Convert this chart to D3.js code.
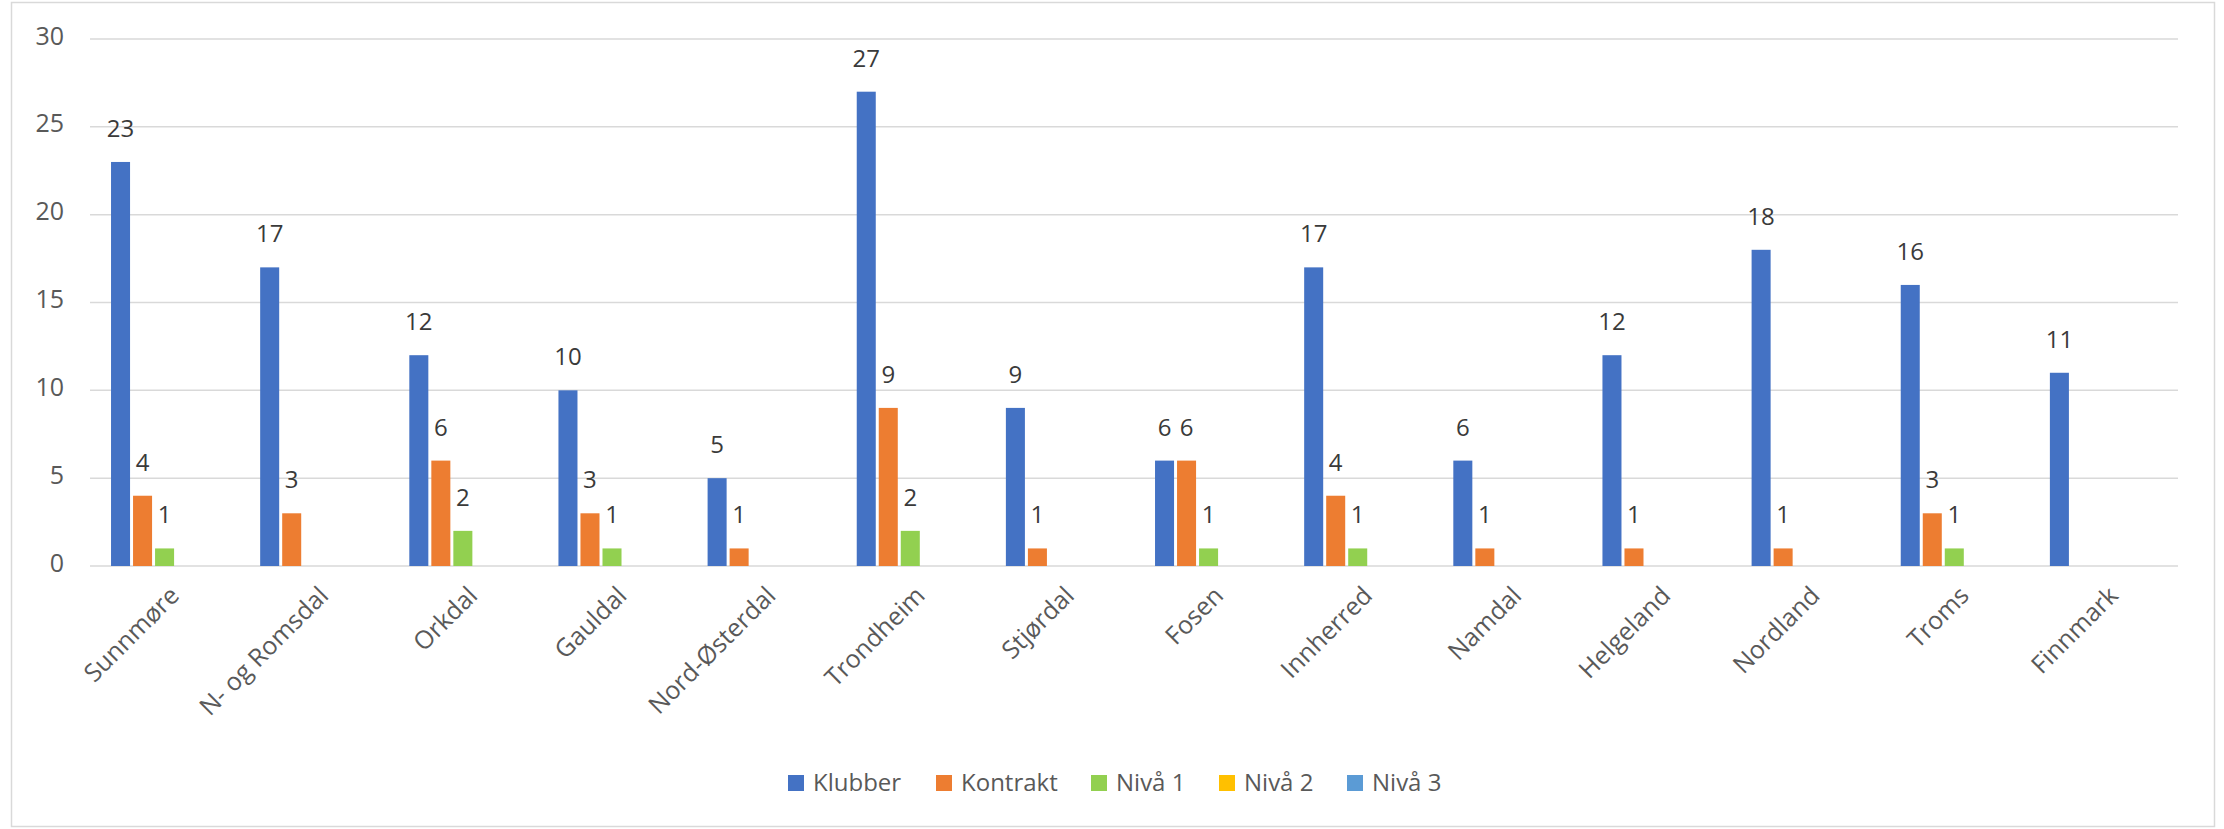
<!DOCTYPE html>
<html>
<head>
<meta charset="utf-8">
<script src="https://cdn.jsdelivr.net/npm/d3@7"></script>
<style>
  html, body { margin: 0; padding: 0; background: #fff; }
  svg { display: block; font-family: "Open Sans", "DejaVu Sans", sans-serif; }
</style>
</head>
<body>
<svg id="chart" width="2224" height="829"></svg>
<script>
// Regions along the x axis
const regions = ["Sunnmøre", "N- og Romsdal", "Orkdal", "Gauldal", "Nord-Østerdal",
  "Trondheim", "Stjørdal", "Fosen", "Innherred", "Namdal", "Helgeland",
  "Nordland", "Troms", "Finnmark"];

// Series names and values per region
const seriesNames = ["Klubber", "Kontrakt", "Nivå 1", "Nivå 2", "Nivå 3"];
const klubber  = [23, 17, 12, 10, 5, 27, 9, 6, 17, 6, 12, 18, 16, 11];
const kontrakt = [4, 3, 6, 3, 1, 9, 1, 6, 4, 1, 1, 1, 3, 0];
const niva1    = [1, 0, 2, 1, 0, 2, 0, 1, 1, 0, 0, 0, 1, 0];
const niva2    = [0, 0, 0, 0, 0, 0, 0, 0, 0, 0, 0, 0, 0, 0];
const niva3    = [0, 0, 0, 0, 0, 0, 0, 0, 0, 0, 0, 0, 0, 0];
const yTicks   = [0, 5, 10, 15, 20, 25, 30];

const seriesValues = [klubber, kontrakt, niva1, niva2, niva3];
const colors = ["#4472C4", "#ED7D31", "#92D050", "#FFC000", "#5B9BD5"];

const svg = d3.select("#chart");

// Outer chart frame
svg.append("rect")
  .attr("x", 11.5).attr("y", 2.5)
  .attr("width", 2203).attr("height", 824)
  .attr("fill", "#fff").attr("stroke", "#d9d9d9").attr("stroke-width", 1.5);

const plot = { left: 90, right: 2178, top: 39, bottom: 566 };

const x0 = d3.scaleBand().domain(regions).range([plot.left, plot.right]).padding(0);
const x1 = d3.scaleBand().domain(seriesNames).range([0, x0.bandwidth()])
  .paddingInner(0.136).paddingOuter(0.955);
const y = d3.scaleLinear().domain([0, 30]).range([plot.bottom, plot.top]);

// Horizontal gridlines
svg.append("g").selectAll("line").data(yTicks).join("line")
  .attr("x1", plot.left).attr("x2", plot.right)
  .attr("y1", d => y(d)).attr("y2", d => y(d))
  .attr("stroke", "#d9d9d9").attr("stroke-width", 1.5);

// Y axis labels
const yAxis = d3.axisLeft(y).tickValues(yTicks).tickSize(0).tickPadding(0);
svg.append("g")
  .attr("transform", `translate(64,0)`)
  .call(yAxis)
  .call(g => g.select(".domain").remove())
  .call(g => g.selectAll("text")
    .attr("fill", "#595959")
    .attr("font-size", 25)
    .attr("font-family", "'Open Sans', sans-serif")
    .attr("dy", "0.2em"));

// Bars
const rows = regions.map((r, i) => ({
  region: r,
  values: seriesNames.map((s, k) => ({ series: s, k, value: seriesValues[k][i] }))
}));

const groups = svg.append("g").selectAll("g").data(rows).join("g")
  .attr("transform", d => `translate(${x0(d.region)},0)`);

groups.selectAll("rect").data(d => d.values).join("rect")
  .attr("x", d => x1(d.series))
  .attr("width", x1.bandwidth())
  .attr("y", d => y(d.value))
  .attr("height", d => y(0) - y(d.value))
  .attr("fill", d => colors[d.k]);

// Value labels above non-zero bars
groups.selectAll("text").data(d => d.values.filter(v => v.value > 0)).join("text")
  .attr("x", d => x1(d.series) + x1.bandwidth() / 2)
  .attr("y", d => y(d.value) - 25)
  .attr("text-anchor", "middle")
  .attr("fill", "#3a3a3a")
  .attr("font-size", 24)
  .attr("font-weight", 500)
  .text(d => d.value);

// X axis category labels, rotated
const xAxis = d3.axisBottom(x0).tickSize(0).tickPadding(0);
svg.append("g")
  .attr("transform", `translate(0,${plot.bottom})`)
  .call(xAxis)
  .call(g => g.select(".domain").remove())
  .call(g => g.selectAll("text")
    .attr("fill", "#595959")
    .attr("font-size", 25)
    .attr("font-family", "'Open Sans', sans-serif")
    .attr("text-anchor", "end")
    .attr("dy", "0.35em")
    .attr("transform", "translate(10,25) rotate(-45)"));

// Legend
const legendX = [788, 936, 1091, 1219, 1347];
const legend = svg.append("g").selectAll("g").data(seriesNames).join("g")
  .attr("transform", (d, i) => `translate(${legendX[i]},775)`);
legend.append("rect")
  .attr("width", 16).attr("height", 16)
  .attr("fill", (d, i) => colors[i]);
legend.append("text")
  .attr("x", 25).attr("y", 8).attr("dy", "0.35em")
  .attr("fill", "#595959")
  .attr("font-size", 24)
  .text(d => d);
</script>
</body>
</html>
